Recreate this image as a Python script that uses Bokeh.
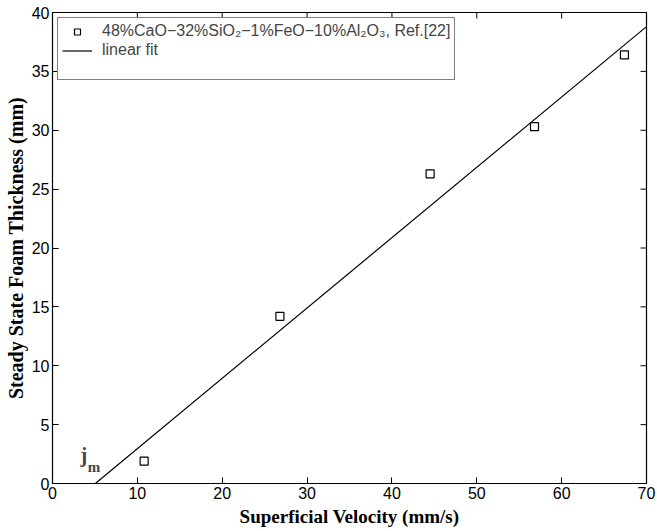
import math
from bokeh.plotting import figure
from bokeh.models import (Range1d, FixedTicker, Legend, LegendItem, Label)
from bokeh.embed import file_html
from bokeh.resources import INLINE

# data
velocity = [10.8, 26.8, 44.5, 56.8, 67.4]          # mm/s
thickness = [1.9, 14.2, 26.3, 30.3, 36.4]          # mm
fit_velocity = [5.05, 70.0]
fit_thickness = [0.0, 38.8]
x_ticks = [0, 10, 20, 30, 40, 50, 60, 70]
y_ticks = [0, 5, 10, 15, 20, 25, 30, 35, 40]
series_label = "48%CaO\u221232%SiO\u2082\u22121%FeO\u221210%Al\u2082O\u2083, Ref.[22]"
fit_label = "linear fit"

X_MIN, X_MAX, Y_MIN, Y_MAX = 0, 70, 0, 40

p = figure(width=657, height=531, output_backend="svg", toolbar_location=None,
           x_range=Range1d(X_MIN, X_MAX), y_range=Range1d(Y_MIN, Y_MAX),
           min_border_left=52, min_border_right=11, min_border_top=12, min_border_bottom=48)
p.background_fill_color = "white"
p.border_fill_color = "white"
p.grid.visible = False
p.outline_line_color = "black"
p.outline_line_width = 1.2

tick_font = "Liberation Sans"
for ax, ticks in ((p.xaxis[0], x_ticks), (p.yaxis[0], y_ticks)):
    ax.ticker = FixedTicker(ticks=ticks)
    ax.major_tick_in = 6
    ax.major_tick_out = 0
    ax.minor_tick_line_color = None
    ax.axis_line_color = "black"
    ax.major_tick_line_color = "black"
    ax.major_label_text_font = tick_font
    ax.major_label_text_font_size = "16px"
    ax.major_label_text_color = "black"
    ax.axis_label_text_font = "Liberation Serif"
    ax.axis_label_text_font_style = "bold"
    ax.axis_label_text_color = "black"

p.xaxis[0].major_label_standoff = 3
p.yaxis[0].major_label_standoff = 3
p.xaxis[0].axis_label = "Superficial Velocity (mm/s)"
p.xaxis[0].axis_label_text_font_size = "19px"
p.xaxis[0].axis_label_standoff = 4
p.yaxis[0].axis_label = "Steady State Foam Thickness (mm)"
p.yaxis[0].axis_label_text_font_size = "20px"
p.yaxis[0].axis_label_standoff = 2

# mirrored inward ticks on top and right edges
p.ray(x=x_ticks, y=[Y_MAX] * len(x_ticks), length=6, length_units="screen",
      angle=-math.pi / 2, line_color="black", line_width=1)
p.ray(x=[X_MAX] * len(y_ticks), y=y_ticks, length=6, length_units="screen",
      angle=math.pi, line_color="black", line_width=1)

r_pts = p.scatter(velocity, thickness, marker="square", size=8, fill_color="white",
                  line_color="black", line_width=1.2)
r_fit = p.line(fit_velocity, fit_thickness, line_color="black", line_width=1.2)

legend = Legend(items=[LegendItem(label=series_label, renderers=[r_pts]),
                       LegendItem(label=fit_label, renderers=[r_fit]),
                       LegendItem(label=" ", renderers=[])],
                location="top_left", margin=5, padding=4, spacing=1,
                label_height=15, glyph_height=15, glyph_width=30, label_standoff=10,
                label_text_font=tick_font, label_text_font_size="16px",
                border_line_color="black", border_line_width=1.2,
                background_fill_alpha=1.0)
p.add_layout(legend, "center")

p.add_layout(Label(x=3.3, y=1.5, text="j", text_font="Liberation Serif",
                   text_font_style="bold", text_font_size="20px"))
p.add_layout(Label(x=4.15, y=0.68, text="m", text_font="Liberation Serif",
                   text_font_style="bold", text_font_size="15px"))

open("out.html", "w").write(file_html(p, INLINE))
